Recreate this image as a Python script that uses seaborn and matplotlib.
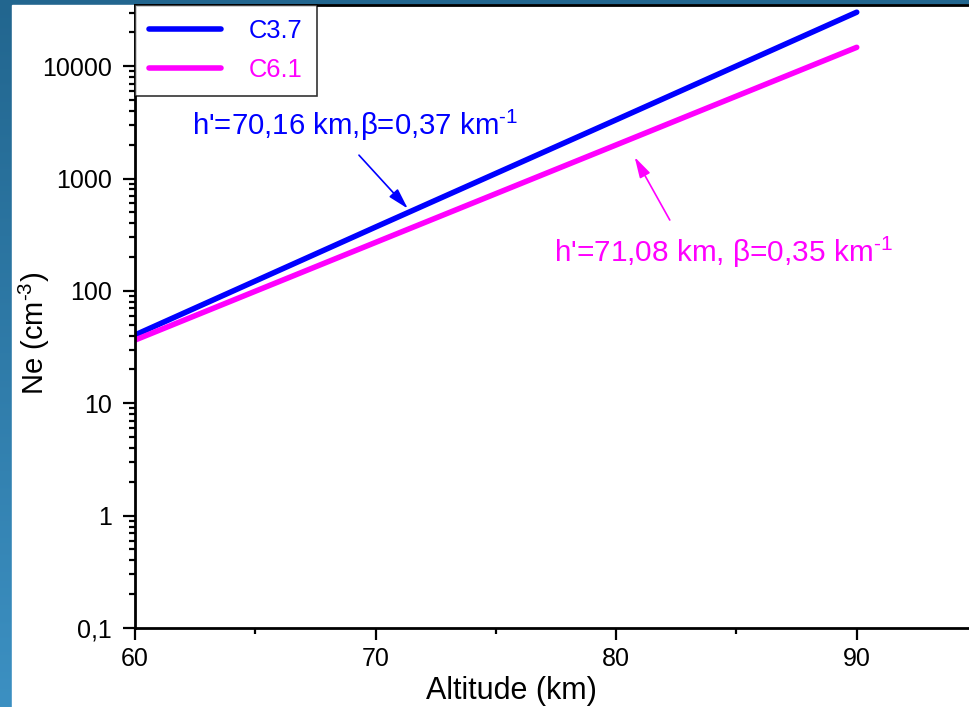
import numpy as np
import pandas as pd
import seaborn as sns
import matplotlib.pyplot as plt
from matplotlib.colors import LinearSegmentedColormap
from matplotlib.ticker import LogLocator, FixedLocator, NullFormatter

# values (Ne in cm^-3 versus altitude in km)
altitude = [60, 70, 80, 90]
ne_c37 = [40.5, 370, 3330, 30200]
ne_c61 = [36.5, 270, 1990, 14700]
series_names = ["C3.7", "C6.1"]
series_colors = ["#0000ff", "#ff00ff"]
ytick_vals = [0.1, 1, 10, 100, 1000, 10000]
ytick_labels = ["0,1", "1", "10", "100", "1000", "10000"]
xtick_vals = [60, 70, 80, 90]

df = pd.concat([
    pd.DataFrame({"Altitude": altitude, "Ne": ne_c37, "Series": series_names[0]}),
    pd.DataFrame({"Altitude": altitude, "Ne": ne_c61, "Series": series_names[1]}),
])

sns.set_style("ticks")
plt.rcParams["font.family"] = ["Liberation Sans", "DejaVu Sans"]
plt.rcParams["mathtext.fontset"] = "custom"
plt.rcParams["mathtext.rm"] = "Liberation Sans"
plt.rcParams["text.color"] = "black"
plt.rcParams["axes.labelcolor"] = "black"

fig = plt.figure(figsize=(9.7, 7.07), dpi=100)

# blue slide background with a white panel
bg = fig.add_axes([0, 0, 1, 1], zorder=-2)
grad = np.linspace(0, 1, 256).reshape(-1, 1)
cmap = LinearSegmentedColormap.from_list("bg", ["#22668f", "#3c90c2"])
bg.imshow(grad, aspect="auto", cmap=cmap, extent=[0, 1, 0, 1], origin="upper")
bg.add_patch(plt.Rectangle((12 / 970, 0), 1, 702 / 707, color="white"))
bg.set_xlim(0, 1)
bg.set_ylim(0, 1)
bg.axis("off")

ax = fig.add_axes([135 / 970, 79 / 707, 842 / 970, 623 / 707])
ax.set_yscale("log")
sns.lineplot(data=df, x="Altitude", y="Ne", hue="Series", palette=series_colors,
             linewidth=4, ax=ax, solid_capstyle="round")

ax.set_xlim(60, 95)
ax.set_ylim(0.1, 35000)

ax.xaxis.set_major_locator(FixedLocator(xtick_vals))
ax.xaxis.set_minor_locator(FixedLocator([65, 75, 85]))
ax.set_yticks(ytick_vals)
ax.set_yticklabels(ytick_labels)
ax.yaxis.set_minor_locator(LogLocator(base=10, subs=np.arange(2, 10)))
ax.yaxis.set_minor_formatter(NullFormatter())

ax.tick_params(axis="both", which="major", labelsize=18, length=8.6, width=1.6,
               color="black", labelcolor="black")
ax.tick_params(axis="both", which="minor", length=4, width=1.6, color="black")
ax.tick_params(axis="y", which="major", pad=8)
ax.tick_params(axis="x", which="major", pad=5)
for s in ax.spines.values():
    s.set_linewidth(2)
    s.set_color("black")

ax.set_xlabel("Altitude (km)", fontsize=22, color="black")
ax.xaxis.set_label_coords((511 - 135) / 842, -0.077)
ax.set_ylabel("Ne (cm$^{\\text{-3}}$)", fontsize=21, color="black")
ax.yaxis.set_label_coords(-0.0986, 0.473)

leg = ax.legend(loc="upper left", fontsize=18.4, frameon=True, fancybox=False,
                borderaxespad=0, handlelength=2.8, handletextpad=1.1,
                borderpad=0.56, labelspacing=0.57)
leg.get_frame().set_edgecolor("black")
leg.get_frame().set_linewidth(1.2)
for txt, c in zip(leg.get_texts(), series_colors):
    txt.set_color(c)
for line in leg.get_lines():
    line.set_linewidth(4)

arrow_style = "-|>,head_width=0.25,head_length=0.9"
ax.annotate("", xy=(71.34, 540), xytext=(69.31, 1614),
            arrowprops=dict(arrowstyle=arrow_style, color=series_colors[0], lw=1.2,
                            shrinkA=0, shrinkB=0, mutation_scale=14))
ax.text(62.37, 2430, "h'=70,16 km,β=0,37 km$^{\\text{-1}}$", fontsize=21.2,
        color=series_colors[0], ha="left", va="baseline")
ax.annotate("", xy=(80.77, 1550), xytext=(82.23, 427),
            arrowprops=dict(arrowstyle=arrow_style, color=series_colors[1], lw=1.2,
                            shrinkA=0, shrinkB=0, mutation_scale=14))
ax.text(77.41, 180, "h'=71,08 km, β=0,35 km$^{\\text{-1}}$", fontsize=21.4,
        color=series_colors[1], ha="left", va="baseline")

fig.savefig("out.png", dpi=100)
